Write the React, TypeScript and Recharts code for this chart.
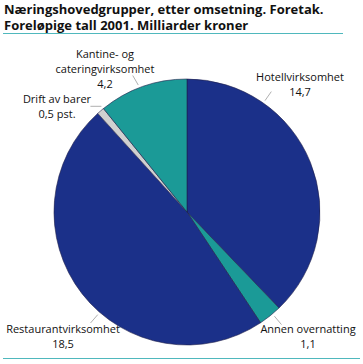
import { PieChart, Pie, Cell } from 'recharts';

const categories = [
  'Hotellvirksomhet',
  'Annen overnatting',
  'Restaurantvirksomhet',
  'Drift av barer',
  'Kantine- og cateringvirksomhet',
];
const values = [14.7, 1.1, 18.5, 0.35, 4.2];
const valueLabels = ['14,7', '1,1', '18,5', '0,5 pst.', '4,2'];
const labelLines = [
  ['Hotellvirksomhet'],
  ['Annen overnatting'],
  ['Restaurantvirksomhet'],
  ['Drift av barer'],
  ['Kantine- og', 'cateringvirksomhet'],
];

const colors = ['#1b3089', '#1b9a97', '#1b3089', '#d0d0d0', '#1b9a97'];

// label placement: leader angle on the rim (deg clockwise from top), leader direction,
// and text centre offset from pie centre
const labelLayout = [
  { angle: 35, dir: 35, dx: 113, dy: -131 },
  { angle: 140, dir: 140, dx: 121, dy: 121 },
  { angle: 221, dir: 221, dx: -124, dy: 121 },
  { angle: 321, dir: 270, dx: -130, dy: -109 },
  { angle: 339, dir: 330, dx: -82, dy: -154 },
];

const data = categories.map((name, i) => ({ name, value: values[i] }));

const FONT = '"Open Sans", "DejaVu Sans", sans-serif';

function renderLabel(props: any) {
  const { cx, cy, outerRadius, index } = props;
  const l = labelLayout[index];
  const rad = (l.angle * Math.PI) / 180;
  const dir = (l.dir * Math.PI) / 180;
  const x1 = cx + (outerRadius + 3) * Math.sin(rad);
  const y1 = cy - (outerRadius + 3) * Math.cos(rad);
  const x2 = x1 + 11 * Math.sin(dir);
  const y2 = y1 - 11 * Math.cos(dir);
  const lines = [...labelLines[index], valueLabels[index]];
  return (
    <g key={`lbl-${index}`}>
      <line x1={x1} y1={y1} x2={x2} y2={y2} stroke="#b0b0b0" strokeWidth={1} />
      {lines.map((t, j) => (
        <text
          key={j}
          x={cx + l.dx}
          y={cy + l.dy + j * 15}
          textAnchor="middle"
          fontSize={11}
          fontFamily={FONT}
          fill="#111"
        >
          {t}
        </text>
      ))}
    </g>
  );
}

export default function App() {
  return (
    <div
      style={{
        position: 'absolute',
        left: 0,
        top: 0,
        width: 363,
        height: 364,
        background: '#fff',
        fontFamily: FONT,
      }}
    >
      <div
        style={{
          position: 'absolute',
          left: 4,
          top: 1,
          fontSize: 13,
          fontWeight: 700,
          lineHeight: '16px',
          color: '#111',
          whiteSpace: 'nowrap',
        }}
      >
        <div>Næringshovedgrupper, etter omsetning. Foretak.</div>
        <div>Foreløpige tall 2001. Milliarder kroner</div>
      </div>
      <div style={{ position: 'absolute', left: 3, top: 33, width: 340, height: 1, background: '#4fb8bd' }} />
      <div style={{ position: 'absolute', left: 3, top: 358, width: 357, height: 1, background: '#4fb8bd' }} />
      <PieChart width={363} height={364} style={{ position: 'absolute', left: 0, top: 0 }}>
        <Pie
          data={data}
          dataKey="value"
          cx={182}
          cy={207}
          outerRadius={133}
          startAngle={90}
          endAngle={-270}
          stroke="#20204a"
          strokeWidth={0.6}
          label={renderLabel}
          labelLine={false}
          isAnimationActive={false}
        >
          {data.map((d, i) => (
            <Cell key={d.name} fill={colors[i]} />
          ))}
        </Pie>
      </PieChart>
    </div>
  );
}
